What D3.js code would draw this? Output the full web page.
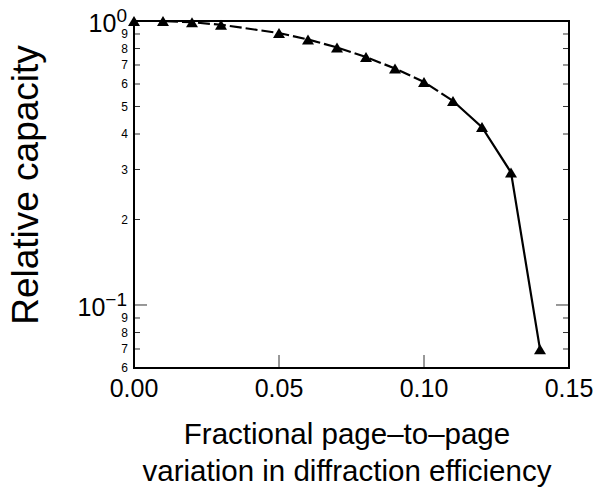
<!DOCTYPE html>
<html>
<head>
<meta charset="utf-8">
<script src="https://cdn.jsdelivr.net/npm/d3@7"></script>
<style>
  html, body { margin: 0; padding: 0; background: #fff; }
  svg { display: block; font-family: "Liberation Sans", Arial, sans-serif; }
</style>
</head>
<body>
<svg id="chart" width="616" height="496"></svg>
<script>
// ---- data ----
const xValues = [0.00, 0.01, 0.02, 0.03, 0.05, 0.06, 0.07, 0.08, 0.09, 0.10, 0.11, 0.12, 0.13, 0.14];
const capacity = [1.0, 1.0, 0.99, 0.97, 0.907, 0.861, 0.807, 0.747, 0.680, 0.610, 0.523, 0.423, 0.293, 0.0698];
const xTickValues = [0.00, 0.05, 0.10, 0.15];
const xTickLabels = ["0.00", "0.05", "0.10", "0.15"];
const yMajorTicks = [1, 0.1];
const yMajorExp = ["0", "\u22121"];
const yMinorTicks = [0.9, 0.8, 0.7, 0.6, 0.5, 0.4, 0.3, 0.2, 0.09, 0.08, 0.07, 0.06];
const yMinorLabels = ["9", "8", "7", "6", "5", "4", "3", "2", "9", "8", "7", "6"];
const xLabelLines = ["Fractional page\u2013to\u2013page", "variation in diffraction efficiency"];
const yLabel = "Relative capacity";
const dashedUntil = 0.11; // dashed part of the curve ends here; solid afterwards

// ---- layout ----
const svg = d3.select("#chart");
const L = 134, R = 569, T = 21, B = 368;
const x = d3.scaleLinear().domain([0, 0.15]).range([L, R]);
const y = d3.scaleLog().domain([0.06, 1]).range([B, T]);

// ticks (inward)
const tickG = svg.append("g").attr("stroke", "#333").attr("stroke-width", 1);
yMinorTicks.forEach(v => {
  tickG.append("line").attr("x1", L).attr("x2", L + 6).attr("y1", y(v)).attr("y2", y(v));
  tickG.append("line").attr("x1", R).attr("x2", R - 6).attr("y1", y(v)).attr("y2", y(v));
});
yMajorTicks.forEach(v => {
  tickG.append("line").attr("x1", L).attr("x2", L + 13).attr("y1", y(v)).attr("y2", y(v));
  tickG.append("line").attr("x1", R).attr("x2", R - 13).attr("y1", y(v)).attr("y2", y(v));
});
xTickValues.slice(1, -1).forEach(v => {
  tickG.append("line").attr("x1", x(v)).attr("x2", x(v)).attr("y1", B).attr("y2", B - 13);
});

// frame
svg.append("rect").attr("x", L).attr("y", T).attr("width", R - L).attr("height", B - T)
  .attr("fill", "none").attr("stroke", "#000").attr("stroke-width", 2);

// y minor labels
svg.append("g").selectAll("text").data(yMinorTicks).join("text")
  .attr("x", 128).attr("y", d => y(d)).attr("dy", "0.36em")
  .attr("text-anchor", "end").attr("font-size", 12).attr("fill", "#000")
  .text((d, i) => yMinorLabels[i]);

// y major labels with superscript
yMajorTicks.forEach((v, i) => {
  const t = svg.append("text").attr("x", 127).attr("y", y(v) + 11)
    .attr("text-anchor", "end").attr("font-size", 25).attr("fill", "#000");
  t.append("tspan").text("10");
  t.append("tspan").attr("font-size", 19).attr("dy", -10).text(yMajorExp[i]);
});

// x tick labels
svg.append("g").selectAll("text").data(xTickValues).join("text")
  .attr("x", d => x(d)).attr("y", 397)
  .attr("text-anchor", "middle").attr("font-size", 25).attr("fill", "#000")
  .text((d, i) => xTickLabels[i]);

// axis titles
svg.append("g").selectAll("text").data(xLabelLines).join("text")
  .attr("x", 347).attr("y", (d, i) => 444 + i * 37)
  .attr("text-anchor", "middle").attr("font-size", 29.5).attr("fill", "#000")
  .text(d => d);
svg.append("text")
  .attr("transform", `translate(38,185) rotate(-90)`)
  .attr("text-anchor", "middle").attr("font-size", 37).attr("fill", "#000")
  .text(yLabel);

// curve
const pts = xValues.map((v, i) => [v, capacity[i]]);
const line = d3.line().x(d => x(d[0])).y(d => y(d[1]));
svg.append("path").datum(pts.filter(d => d[0] <= dashedUntil + 1e-9))
  .attr("d", line).attr("fill", "none").attr("stroke", "#000")
  .attr("stroke-width", 2.2).attr("stroke-dasharray", "12,4");
svg.append("path").datum(pts.filter(d => d[0] >= dashedUntil - 1e-9))
  .attr("d", line).attr("fill", "none").attr("stroke", "#000")
  .attr("stroke-width", 2.2);

// triangle markers (box-centred)
const tri = {
  draw(ctx, size) {
    const w = 12, h = 10;
    ctx.moveTo(0, -h / 2);
    ctx.lineTo(w / 2, h / 2);
    ctx.lineTo(-w / 2, h / 2);
    ctx.closePath();
  }
};
svg.append("g").selectAll("path").data(pts).join("path")
  .attr("transform", d => `translate(${x(d[0])},${y(d[1])})`)
  .attr("d", d3.symbol().type(tri).size(64)())
  .attr("fill", "#000");
</script>
</body>
</html>
